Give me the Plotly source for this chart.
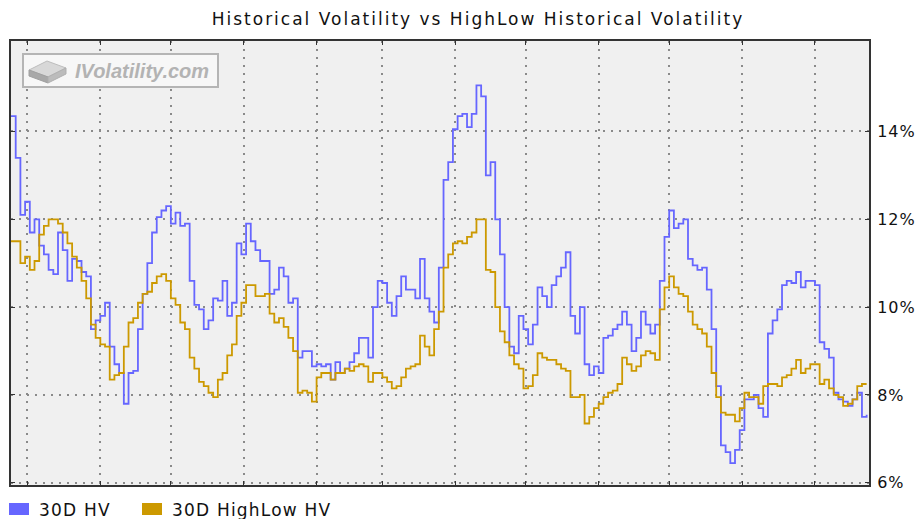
import pandas as pd
import plotly.graph_objects as go

# ---- data ----
start_date = "2009-09-24"
n_points = 183
step = "2D"

hv_30d = [
    14.35, 13.4, 12.1, 12.4, 11.7, 12.0, 11.4, 11.2, 10.85, 10.75,
    11.7, 11.3, 10.6, 11.1, 11.05, 10.8, 10.7, 9.5, 9.7, 9.8,
    10.1, 9.1, 8.7, 8.5, 7.8, 8.5, 8.55, 9.5, 10.3, 11.0,
    11.7, 12.05, 12.2, 12.3, 11.9, 12.15, 11.85, 11.9, 10.6, 10.05,
    9.95, 9.5, 9.7, 10.2, 10.15, 10.6, 9.8, 10.1, 11.45, 11.2,
    11.9, 11.5, 11.3, 11.05, 11.05, 10.3, 10.4, 10.9, 10.7, 10.1,
    10.2, 8.85, 9.0, 9.0, 8.65, 8.7, 8.65, 8.7, 8.35, 8.75,
    8.5, 8.6, 8.75, 8.95, 9.3, 9.3, 8.85, 10.0, 10.6, 10.55,
    10.1, 9.8, 10.25, 10.7, 10.4, 10.4, 10.2, 11.1, 10.2, 9.9,
    9.65, 10.9, 12.9, 13.3, 14.05, 14.35, 14.4, 14.1, 14.4, 15.05,
    14.8, 13.0, 13.3, 12.0, 11.2, 10.0, 9.1, 8.95, 9.8, 9.5,
    9.15, 9.6, 10.45, 10.25, 10.0, 10.5, 10.7, 10.9, 11.25, 9.8,
    9.4, 10.0, 8.7, 8.45, 8.65, 8.5, 9.3, 9.35, 9.5, 9.6,
    9.9, 9.6, 9.0, 9.3, 9.9, 9.6, 9.4, 9.6, 10.6, 11.6,
    12.2, 11.8, 11.9, 12.0, 11.1, 10.95, 10.85, 10.9, 10.4, 9.5,
    8.2, 6.85, 6.7, 6.45, 6.75, 7.2, 7.9, 7.9, 8.0, 7.7,
    7.5, 9.4, 9.7, 9.95, 10.5, 10.6, 10.55, 10.8, 10.45, 10.6,
    10.6, 10.5, 9.2, 9.05, 8.85, 8.05, 7.9, 7.85, 7.75, 7.9,
    8.05, 7.5, 7.55,
]

highlow_hv_30d = [
    11.5, 11.5, 11.0, 11.15, 10.85, 11.05, 11.65, 11.85, 12.0, 12.0,
    11.9, 11.7, 11.45, 11.15, 10.9, 10.6, 10.2, 9.6, 9.3, 9.15,
    9.1, 8.35, 8.45, 8.5, 9.1, 9.65, 9.75, 10.1, 10.3, 10.35,
    10.55, 10.7, 10.75, 10.6, 10.2, 10.05, 9.65, 9.5, 8.85, 8.6,
    8.3, 8.2, 8.05, 7.95, 8.35, 8.5, 8.9, 9.15, 9.8, 10.1,
    10.5, 10.5, 10.25, 10.25, 10.3, 9.85, 9.65, 9.75, 9.55, 9.3,
    9.0, 8.05, 8.1, 8.05, 7.85, 8.4, 8.5, 8.5, 8.35, 8.5,
    8.5, 8.6, 8.55, 8.65, 8.7, 8.65, 8.3, 8.5, 8.5, 8.4,
    8.3, 8.15, 8.2, 8.4, 8.6, 8.65, 8.7, 9.35, 9.1, 8.9,
    9.5, 9.9, 10.9, 11.2, 11.45, 11.5, 11.45, 11.6, 11.7, 12.0,
    12.0, 10.85, 10.8, 10.0, 9.45, 9.2, 8.9, 8.7, 8.6, 8.15,
    8.2, 8.45, 8.95, 8.85, 8.8, 8.8, 8.7, 8.6, 8.55, 7.95,
    7.95, 8.0, 7.35, 7.5, 7.7, 7.8, 7.95, 8.05, 8.1, 8.25,
    8.85, 8.7, 8.55, 8.65, 8.9, 9.0, 8.95, 8.8, 9.95, 10.45,
    10.7, 10.45, 10.3, 10.25, 9.9, 9.6, 9.5, 9.4, 9.1, 8.5,
    7.95, 7.6, 7.55, 7.55, 7.4, 7.7, 8.05, 7.95, 7.95, 7.8,
    8.2, 8.25, 8.25, 8.2, 8.4, 8.45, 8.6, 8.8, 8.5, 8.6,
    8.7, 8.7, 8.25, 8.35, 8.15, 8.0, 7.95, 7.75, 7.8, 7.9,
    8.2, 8.25, 8.25,
]

y_tick_values = [6, 8, 10, 12, 14]
y_tick_labels = ["6%", "8%", "10%", "12%", "14%"]
series_names = ["30D HV", "30D HighLow HV"]
series_colors = ["#6666ff", "#cc9900"]

dates = pd.date_range(start_date, periods=n_points, freq=step)

# ---- layout geometry (pixels) ----
W, H = 916, 519
PL, PR, PT, PB = 11, 869, 41, 485


def px_x(x):
    return (x - PL) / (PR - PL)


def px_y(y):
    return (PB - y) / (PB - PT)


def spaced(text, sp):
    return f'<span style="letter-spacing:{sp}px">{text}</span>'


fig = go.Figure()
for name, vals, col in zip(series_names, [hv_30d, highlow_hv_30d], series_colors):
    fig.add_trace(go.Scatter(
        x=dates, y=vals, name=name, mode="lines",
        line=dict(color=col, width=1.8, shape="hv"),
        showlegend=False, hoverinfo="skip",
    ))

grid_dash = "2px,6px"
fig.update_layout(
    width=W, height=H,
    margin=dict(l=PL, r=W - PR, t=PT, b=H - PB, pad=0, autoexpand=False),
    paper_bgcolor="white",
    plot_bgcolor="#f0f0f0",
    font=dict(family="DejaVu Sans", color="#111"),
    title=dict(
        text=spaced("Historical Volatility vs HighLow Historical Volatility", 2),
        x=478 / W, xref="container", xanchor="center",
        y=1 - 19 / H, yref="container", yanchor="middle",
        font=dict(size=17, family="DejaVu Sans", color="#111"),
    ),
    xaxis=dict(
        type="date",
        range=["2009-09-24", "2010-09-24"],
        tick0="2009-10-01", dtick="M1",
        showticklabels=False, automargin=False,
        ticks="inside", ticklen=4, tickwidth=1, tickcolor="#333",
        showgrid=True, gridcolor="#8a8a8a", gridwidth=1.5, griddash=grid_dash,
        showline=True, linecolor="#333", linewidth=2, mirror="ticks",
        zeroline=False,
    ),
    yaxis=dict(
        side="right", automargin=False,
        range=[5.95, 16.06],
        tickmode="array",
        tickvals=y_tick_values,
        ticktext=[spaced(t, 1) for t in y_tick_labels],
        ticks="inside", ticklen=4, tickwidth=1, tickcolor="#333",
        ticklabelstandoff=3,
        tickfont=dict(size=16, family="DejaVu Sans", color="#111"),
        showgrid=True, gridcolor="#8a8a8a", gridwidth=1.5, griddash=grid_dash,
        showline=True, linecolor="#333", linewidth=2, mirror="ticks",
        zeroline=False,
    ),
)

# ---- logo box ----
shapes = [
    dict(type="rect", xref="paper", yref="paper",
         x0=px_x(23), x1=px_x(218), y0=px_y(87), y1=px_y(54),
         line=dict(color="#b5b5b5", width=2), fillcolor="#f7f7f7", layer="above"),
]


def poly(points):
    return "M " + " L ".join(f"{px_x(a):.5f},{px_y(b):.5f}" for a, b in points) + " Z"


shapes += [
    dict(type="path", xref="paper", yref="paper",
         path=poly([(29, 70), (47, 61), (66, 68), (48, 77)]),
         fillcolor="#d8d8d8", line=dict(color="#bdbdbd", width=1), layer="above"),
    dict(type="path", xref="paper", yref="paper",
         path=poly([(29, 70), (48, 77), (48, 83), (29, 76)]),
         fillcolor="#a8a8a8", line=dict(color="#a0a0a0", width=1), layer="above"),
    dict(type="path", xref="paper", yref="paper",
         path=poly([(48, 77), (66, 68), (66, 74), (48, 83)]),
         fillcolor="#bcbcbc", line=dict(color="#b0b0b0", width=1), layer="above"),
]

annotations = [
    dict(text="<b><i>IVolatility.com</i></b>", xref="paper", yref="paper",
         x=px_x(73), y=px_y(71), xanchor="left", yanchor="middle", showarrow=False,
         font=dict(size=20, family="Liberation Sans", color="#b3b3b3")),
]

# ---- legend (bottom) ----
legend_items = [(9, 29, 37), (142, 162, 170)]
for (rx0, rx1, tx), name, col in zip(legend_items, series_names, series_colors):
    shapes.append(dict(type="rect", xref="paper", yref="paper",
                       x0=px_x(rx0), x1=px_x(rx1), y0=px_y(515), y1=px_y(503),
                       fillcolor=col, line=dict(width=0)))
    annotations.append(dict(text=spaced(name, 1.2), xref="paper", yref="paper",
                            x=px_x(tx), y=px_y(510), xanchor="left", yanchor="middle",
                            showarrow=False,
                            font=dict(size=17, family="DejaVu Sans", color="#111")))

fig.update_layout(shapes=shapes, annotations=annotations)

fig.write_html(
    "out.html",
    config={"displayModeBar": False},
    post_script="document.body.style.margin='0';document.body.style.overflow='hidden';",
)
